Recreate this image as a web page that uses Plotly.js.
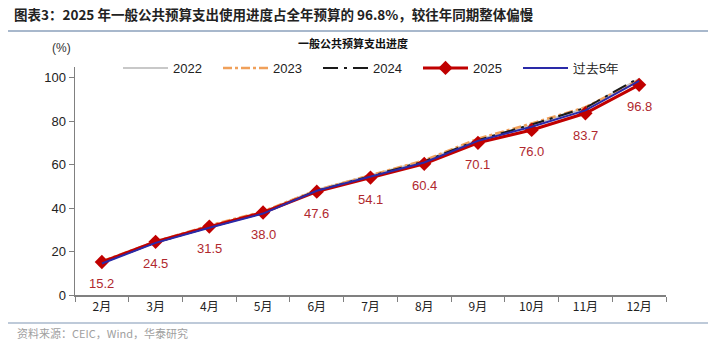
<!DOCTYPE html>
<html><head><meta charset="utf-8">
<script src="https://cdn.plot.ly/plotly-3.0.1.min.js"></script>
<style>html,body{margin:0;padding:0;background:#fff;}#chart{width:718px;height:355px;}</style>
</head><body><div id="chart"></div>
<script>
const months = ['2月','3月','4月','5月','6月','7月','8月','9月','10月','11月','12月'];
const y2022 = [15.0,24.8,31.5,38.3,48.5,55.0,61.8,71.5,78.2,86.0,99.5];
const y2023 = [15.5,24.6,32.0,38.5,48.3,55.2,62.0,72.0,79.0,86.5,99.0];
const y2024 = [14.8,24.2,31.2,37.8,48.0,54.8,61.5,71.3,78.5,86.2,100.0];
const y2025 = [15.2,24.5,31.5,38.0,47.6,54.1,60.4,70.1,76.0,83.7,96.8];
const yAvg5 = [14.5,24.0,31.0,37.5,48.0,54.5,61.0,71.0,77.5,85.0,98.6];

const W=718,H=355,L=75,R=52,T=67,B=60;
const pw=W-L-R, ph=H-T-B;
const px=x=>(x-L)/pw, py=y=>(H-B-y)/ph;

const traces = [
  {x:months,y:y2022,name:'2022',mode:'lines',line:{color:'#c8c8c8',width:2}},
  {x:months,y:y2023,name:'2023',mode:'lines',line:{color:'#f0a05a',width:2.5,dash:'dashdot'}},
  {x:months,y:y2024,name:'2024',mode:'lines',line:{color:'#1a1a1a',width:2,dash:'longdashdot'}},
  {x:months,y:y2025,name:'2025',mode:'lines+markers',line:{color:'#c00000',width:3},marker:{symbol:'diamond',size:11,color:'#c00000'}},
  {x:months,y:yAvg5,name:'过去5年',mode:'lines',line:{color:'#2a2aa8',width:2}}
];

const annotations = y2025.map((v,i)=>({x:months[i],y:v,xref:'x',yref:'y',text:v.toFixed(1),showarrow:false,yshift:-22,font:{family:'Liberation Sans, Arial',size:13,color:'#b0282e'}}));
annotations.push(
  {xref:'paper',yref:'paper',x:px(12),y:py(14),xanchor:'left',yanchor:'middle',showarrow:false,text:'<b>图表3：2025 年一般公共预算支出使用进度占全年预算的 96.8%，较往年同期整体偏慢</b>',font:{family:'Noto Sans CJK SC',size:13.5,color:'#222'}},
  {xref:'paper',yref:'paper',x:px(353),y:py(43),xanchor:'center',yanchor:'middle',showarrow:false,text:'<b>一般公共预算支出进度</b>',font:{family:'Noto Sans CJK SC',size:11,color:'#111'}},
  {xref:'paper',yref:'paper',x:px(61),y:py(48),xanchor:'center',yanchor:'middle',showarrow:false,text:'(%)',font:{family:'Liberation Sans, Arial',size:12,color:'#333'}},
  {xref:'paper',yref:'paper',x:px(15),y:py(333),xanchor:'left',yanchor:'middle',showarrow:false,text:'资料来源：CEIC，Wind，华泰研究',font:{family:'Noto Sans CJK SC',size:11,color:'#a0a0a0'}}
);

const layout = {
  width:W,height:H,margin:{l:L,r:R,t:T,b:B},
  paper_bgcolor:'#fff',plot_bgcolor:'#fff',
  showlegend:true,
  legend:{orientation:'h',x:px(118),y:py(68),xanchor:'left',yanchor:'middle',itemwidth:45,entrywidth:40,entrywidthmode:'pixels',font:{family:'Liberation Sans, Arial',size:13,color:'#222'},bgcolor:'rgba(0,0,0,0)',traceorder:'normal'},
  xaxis:{type:'category',showline:true,linecolor:'#808080',linewidth:1.5,ticks:'outside',tickson:'boundaries',ticklen:5,tickcolor:'#808080',showgrid:false,zeroline:false,tickfont:{family:'Noto Sans CJK SC',size:12,color:'#222'},range:[-0.5,10.5]},
  yaxis:{range:[0,105],tickvals:[0,20,40,60,80,100],showline:true,linecolor:'#808080',linewidth:1.5,ticks:'outside',ticklen:5,tickcolor:'#808080',showgrid:false,zeroline:false,tickfont:{family:'Liberation Sans, Arial',size:13,color:'#222'}},
  shapes:[
    {type:'line',xref:'paper',yref:'paper',x0:px(8),x1:px(708),y0:py(31),y1:py(31),line:{color:'#a8b8cc',width:2}},
    {type:'line',xref:'paper',yref:'paper',x0:px(8),x1:px(708),y0:py(323),y1:py(323),line:{color:'#a8b8cc',width:1.5}}
  ],
  annotations:annotations
};
Plotly.newPlot('chart',traces,layout,{displayModeBar:false,staticPlot:true});
</script></body></html>
